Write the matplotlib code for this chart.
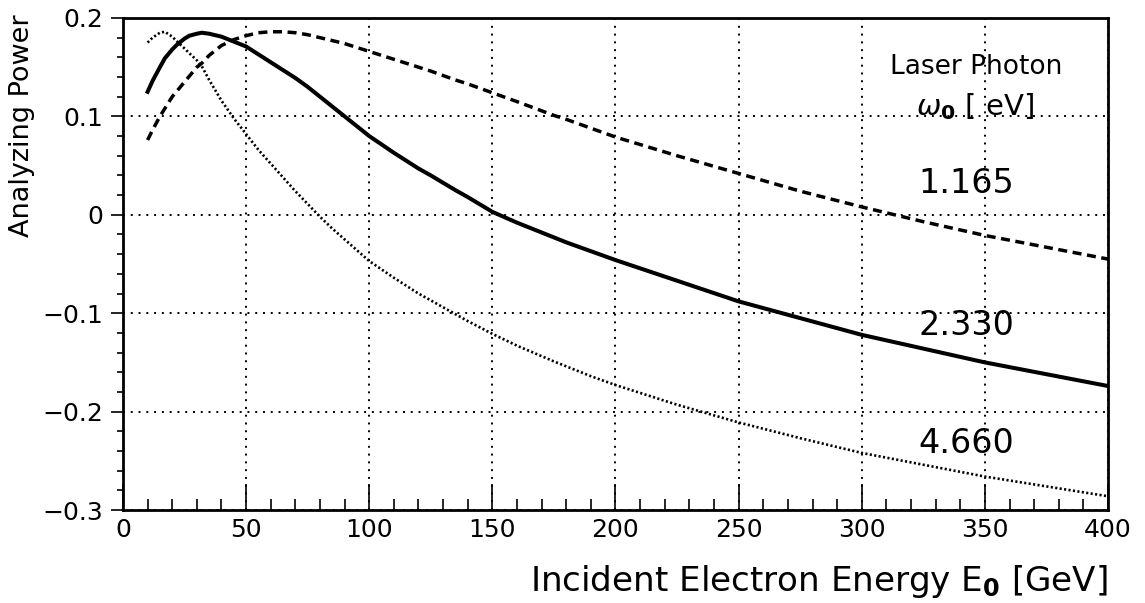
import matplotlib
matplotlib.use('Agg')
import matplotlib.pyplot as plt
from matplotlib.ticker import MultipleLocator

plt.rcParams['font.family'] = ['DejaVu Sans']

# 入射电子能量 [GeV]
energy = [10, 12, 15, 17, 20, 22, 25, 27, 30, 32, 35, 40, 45, 50, 55, 60,
          65, 70, 75, 80, 85, 90, 95, 100, 110, 120, 125, 135, 140, 150,
          160, 175, 180, 190, 200, 225, 250, 275, 300, 325, 350, 375, 400]

# 激光光子能量 1.165 eV (虚线)
ap_1165 = [0.076, 0.086, 0.100, 0.108, 0.120, 0.126, 0.135, 0.141, 0.150,
           0.154, 0.162, 0.172, 0.178, 0.182, 0.185, 0.186, 0.186, 0.185,
           0.183, 0.180, 0.177, 0.174, 0.170, 0.166, 0.158, 0.150, 0.146,
           0.137, 0.133, 0.124, 0.115, 0.101, 0.097, 0.088, 0.079, 0.060,
           0.042, 0.024, 0.008, -0.007, -0.021, -0.033, -0.045]
# 2.330 eV (实线)
ap_2330 = [0.125, 0.136, 0.150, 0.159, 0.168, 0.173, 0.179, 0.182, 0.184,
           0.185, 0.184, 0.181, 0.176, 0.171, 0.163, 0.155, 0.147, 0.139,
           0.130, 0.120, 0.110, 0.100, 0.090, 0.080, 0.063, 0.047, 0.040,
           0.025, 0.018, 0.003, -0.008, -0.023, -0.028, -0.037, -0.046,
           -0.067, -0.088, -0.105, -0.122, -0.136, -0.150, -0.162, -0.174]
# 4.660 eV (点线)
ap_4660 = [0.175, 0.180, 0.185, 0.186, 0.181, 0.176, 0.169, 0.164, 0.157,
           0.151, 0.137, 0.116, 0.098, 0.082, 0.066, 0.052, 0.038, 0.024,
           0.011, -0.002, -0.014, -0.025, -0.036, -0.047, -0.064, -0.080,
           -0.087, -0.101, -0.108, -0.121, -0.133, -0.149, -0.154, -0.164,
           -0.173, -0.193, -0.211, -0.227, -0.242, -0.254, -0.266, -0.276,
           -0.286]

labels = ['1.165', '2.330', '4.660']
label_y = [0.032, -0.112, -0.232]

fig = plt.figure(figsize=(11.45, 6.03), dpi=100)
ax = fig.add_axes([0.1074, 0.1542, 0.8603, 0.8160])

ax.plot(energy, ap_1165, color='black', lw=2.5, linestyle=(0, (2.6, 1.6)))
ax.plot(energy, ap_2330, color='black', lw=2.9, linestyle='-')
ax.plot(energy, ap_4660, color='black', lw=1.9, linestyle=(0, (0.8, 0.9)))

ax.set_xlim(0, 400)
ax.set_ylim(-0.3, 0.2)
ax.xaxis.set_major_locator(MultipleLocator(50))
ax.xaxis.set_minor_locator(MultipleLocator(10))
ax.yaxis.set_major_locator(MultipleLocator(0.1))
ax.yaxis.set_minor_locator(MultipleLocator(0.02))

def fmt(v, pos):
    if abs(v) < 1e-9:
        return '0'
    return ('%g' % round(v, 3)).replace('-', '\u2212')
ax.xaxis.set_major_formatter(plt.FuncFormatter(lambda v, p: '%d' % v))
ax.yaxis.set_major_formatter(plt.FuncFormatter(fmt))

# 刻度：y 轴向外，x 轴向内
ax.tick_params(axis='y', which='major', direction='out', length=9, width=1.2,
               labelsize=18, pad=5)
ax.tick_params(axis='y', which='minor', direction='out', length=4, width=1.2)
ax.tick_params(axis='x', which='major', direction='in', length=19, width=1.2,
               labelsize=18, pad=6)
ax.tick_params(axis='x', which='minor', direction='in', length=8, width=1.2)

for s in ax.spines.values():
    s.set_linewidth(2)

ax.grid(True, which='major', color='black', linestyle=(0, (1, 3)), lw=1.4)

fig.text(1108 / 1145, 1 - 591 / 603,
         'Incident Electron Energy E$_\\mathbf{0}$ [GeV]',
         fontsize=24.6, ha='right', va='baseline')
fig.text(22 / 1145, 1 - 14 / 603, 'Analyzing Power', fontsize=19.5,
         rotation=90, ha='center', va='top')

ax.text(346.5, 0.150, 'Laser Photon', fontsize=19, ha='center', va='center')
ax.text(346, 0.110, '$\\omega_\\mathbf{0}$ [ eV]', fontsize=21,
        ha='center', va='center')
for lab, yy in zip(labels, label_y):
    ax.text(342.5, yy, lab, fontsize=24, ha='center', va='center')

fig.savefig('out.png', dpi=100)
